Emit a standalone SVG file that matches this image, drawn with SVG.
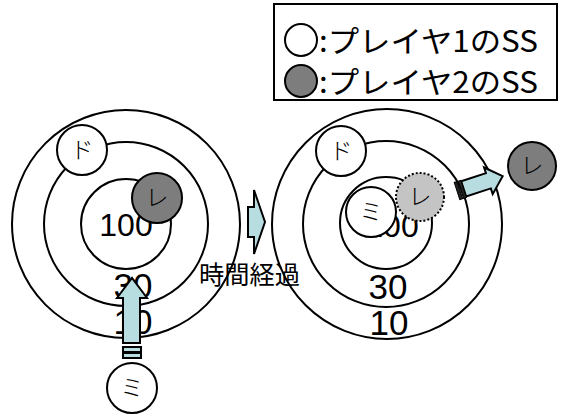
<svg xmlns="http://www.w3.org/2000/svg" width="565" height="416" viewBox="0 0 565 416">
  <style>
    .ring { fill: none; stroke: #000; stroke-width: 2; }
    .ss { fill: #fff; stroke: #000; stroke-width: 2; }
    .ss2 { fill: #7d7d7d; stroke: #000; stroke-width: 2; }
    .ghost { fill: #c4c4c4; stroke: #000; stroke-width: 2; stroke-dasharray: 2 2; }
    .arrow { fill: #b8dde1; stroke: #000; stroke-width: 2; stroke-linejoin: miter; }
    .num { font-family: "Liberation Sans", Arial, sans-serif; fill: #000; text-anchor: middle; }
    .jp { font-family: "Noto Sans CJK JP", "Liberation Sans", sans-serif; fill: #000; }
    .lbl { font-family: "Noto Sans CJK JP", sans-serif; font-size: 23px; font-weight: 300; text-anchor: middle; fill: #000; }
  </style>

  <!-- legend -->
  <g id="legend">
    <rect x="274" y="4" width="283" height="96" fill="#fff" stroke="#000" stroke-width="2"/>
    <circle class="ss" cx="301" cy="40" r="16"/>
    <text class="jp" x="319" y="52" font-size="30" textLength="219" lengthAdjust="spacingAndGlyphs">:プレイヤ1のSS</text>
    <circle class="ss2" cx="301" cy="81" r="16"/>
    <text class="jp" x="319" y="93" font-size="30" textLength="219" lengthAdjust="spacingAndGlyphs">:プレイヤ2のSS</text>
  </g>

  <!-- left target -->
  <g id="target-before">
    <circle class="ring" cx="126" cy="224" r="114"/>
    <circle class="ring" cx="126" cy="224" r="82"/>
    <circle class="ring" cx="126" cy="224" r="45"/>
    <text class="num" x="126" y="236" font-size="32">100</text>
    <text class="num" x="133" y="298" font-size="35">30</text>
    <text class="num" x="133" y="334" font-size="35">10</text>
  </g>

  <g id="do-before">
    <circle class="ss" cx="82" cy="150" r="25"/>
    <text class="lbl" x="82" y="158">ド</text>
  </g>
  <g id="re-before">
    <circle class="ss2" cx="157" cy="198" r="25"/>
    <text class="lbl" x="157" y="206">レ</text>
  </g>
  <g id="mi-before">
    <circle class="ss" cx="132" cy="388" r="25"/>
    <text class="lbl" x="132" y="396">ミ</text>
  </g>

  <!-- right target -->
  <g id="target-after">
    <circle class="ring" cx="387" cy="224" r="115"/>
    <circle class="ring" cx="386" cy="224" r="83"/>
    <circle class="ring" cx="386" cy="223" r="46"/>
    <text class="num" x="392" y="237" font-size="32">100</text>
    <text class="num" x="388" y="299" font-size="35">30</text>
    <text class="num" x="389" y="335" font-size="35">10</text>
  </g>

  <g id="do-after">
    <circle class="ss" cx="341" cy="151" r="25"/>
    <text class="lbl" x="341" y="159">ド</text>
  </g>
  <g id="mi-after">
    <circle class="ss" cx="371" cy="212" r="25"/>
    <text class="lbl" x="371" y="220">ミ</text>
  </g>
  <g id="re-after-old">
    <circle class="ghost" cx="420" cy="197" r="24"/>
    <text class="lbl" x="420" y="205">レ</text>
  </g>
  <g id="re-after">
    <circle class="ss2" cx="532" cy="166" r="24"/>
    <text class="lbl" x="532" y="174">レ</text>
  </g>

  <g id="caption">
    <text class="jp" x="199" y="284" font-size="25" textLength="101" lengthAdjust="spacingAndGlyphs">時間経過</text>
  </g>

  <!-- connectors: block arrows -->
  <g id="connectors">
    <!-- Mi shot upward into the target -->
    <path class="arrow" d="M123,343 V298 H117 L132,278 L147,298 H140 V343 Z"/>
    <rect class="arrow" x="123" y="347" width="18" height="5"/>
    <rect class="arrow" x="123" y="353" width="18" height="5"/>
    <!-- time passes -->
    <path class="arrow" d="M248,207 H254 V190 L265,222 L254,254 V237 H248 Z"/>
    <!-- Re knocked out -->
    <g transform="translate(457,191) rotate(-18)">
      <path class="arrow" d="M7,-8 H33 V-14 L48,0 L33,14 V8 H7 Z"/>
      <rect x="0" y="-9" width="3" height="18" fill="#222" stroke="#000" stroke-width="1"/>
      <rect x="4" y="-9" width="3" height="18" fill="#222" stroke="#000" stroke-width="1"/>
    </g>
  </g>
</svg>
